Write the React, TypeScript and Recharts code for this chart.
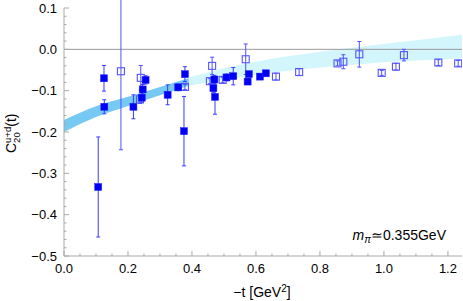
import React from 'react';
import { ComposedChart, XAxis, YAxis, Scatter, Area, ErrorBar, ReferenceLine } from 'recharts';

// ---- data ----
const filledX = [0.125, 0.126, 0.107, 0.217, 0.243, 0.246, 0.255, 0.324, 0.357, 0.378, 0.375, 0.470, 0.467, 0.472, 0.508, 0.529, 0.578, 0.574, 0.6125, 0.631];
const filledY = [-0.070, -0.139, -0.333, -0.139, -0.117, -0.097, -0.074, -0.110, -0.092, -0.060, -0.198, -0.073, -0.094, -0.115, -0.068, -0.065, -0.060, -0.078, -0.066, -0.058];
const filledErr = [0.031, 0.017, 0.121, 0.029, 0.012, 0.012, 0.010, 0.024, 0.008, 0.018, 0.084, 0.010, 0.010, 0.042, 0.008, 0.021, 0.006, 0.006, 0.006, 0.006];

const openX = [0.178, 0.240, 0.2375, 0.378, 0.463, 0.456, 0.496, 0.568, 0.6625, 0.735, 0.855, 0.873, 0.923, 0.993, 1.0375, 1.0625, 1.170, 1.232];
const openY = [-0.053, -0.069, -0.121, -0.091, -0.040, -0.077, -0.074, -0.024, -0.066, -0.055, -0.034, -0.030, -0.012, -0.057, -0.042, -0.014, -0.032, -0.034];
const openErr = [0.19, 0.030, 0.010, 0.006, 0.021, 0.006, 0.006, 0.037, 0.008, 0.008, 0.006, 0.017, 0.031, 0.006, 0.008, 0.014, 0.007, 0.007];

const darkBandX = [0, 0.1, 0.2, 0.3, 0.39];
const darkBandLo = [-0.200, -0.164, -0.137, -0.111, -0.088];
const darkBandHi = [-0.171, -0.138, -0.115, -0.091, -0.070];

const lightBandX = [0.39, 0.45, 0.5, 0.6, 0.7, 0.8, 0.9, 1.0, 1.1, 1.244];
const lightBandLo = [-0.088, -0.080, -0.074, -0.062, -0.052, -0.044, -0.037, -0.031, -0.027, -0.022];
const lightBandHi = [-0.068, -0.056, -0.046, -0.030, -0.017, -0.006, 0.004, 0.013, 0.022, 0.035];

const xTicks = [0, 0.05, 0.1, 0.15, 0.2, 0.25, 0.3, 0.35, 0.4, 0.45, 0.5, 0.55, 0.6, 0.65, 0.7, 0.75, 0.8, 0.85, 0.9, 0.95, 1.0, 1.05, 1.1, 1.15, 1.2];
const xMajorTicks = [0, 0.2, 0.4, 0.6, 0.8, 1.0, 1.2];
const xTickLabels = ['0.0', '0.2', '0.4', '0.6', '0.8', '1.0', '1.2'];

const yTicks = [-0.5, -0.48, -0.46, -0.44, -0.42, -0.4, -0.38, -0.36, -0.34, -0.32, -0.3, -0.28, -0.26, -0.24, -0.22, -0.2, -0.18, -0.16, -0.14, -0.12, -0.1, -0.08, -0.06, -0.04, -0.02, 0, 0.02, 0.04, 0.06, 0.08, 0.1];
const yMajorTicks = [-0.5, -0.4, -0.3, -0.2, -0.1, 0, 0.1];
const yTickLabels = ['\u22120.5', '\u22120.4', '\u22120.3', '\u22120.2', '\u22120.1', '0.0', '0.1'];

// ---- tables built from the arrays ----
const filledData = filledX.map((x, i) => ({ x, y: filledY[i], err: filledErr[i] }));
const openData = openX.map((x, i) => ({ x, y: openY[i], err: openErr[i] }));
const darkBand = darkBandX.map((x, i) => ({ x, lo: darkBandLo[i], hi: darkBandHi[i] }));
const lightBand = lightBandX.map((x, i) => ({ x, lo: lightBandLo[i], hi: lightBandHi[i] }));

const FONT = '"Liberation Sans", Arial, Helvetica, sans-serif';
const FRAME = '#a8a8a8';
const MAJOR = 5;
const MINOR = 2.5;

const majorIndex = (v: number, majors: number[]) => majors.findIndex((m) => Math.abs(m - v) < 1e-6);

const BottomTick = (props: any) => {
  const { x, y, payload } = props;
  const idx = majorIndex(payload.value, xMajorTicks);
  const len = idx >= 0 ? MAJOR : MINOR;
  return (
    <g>
      <line x1={x} y1={y} x2={x} y2={y - len} stroke={FRAME} strokeWidth={1} />
      {idx >= 0 && (
        <text x={x} y={y + 17} textAnchor="middle" fontFamily={FONT} fontSize={13} fill="#000">
          {xTickLabels[idx]}
        </text>
      )}
    </g>
  );
};

const TopTick = (props: any) => {
  const { x, y, payload } = props;
  const idx = majorIndex(payload.value, xMajorTicks);
  const len = idx >= 0 ? MAJOR : MINOR;
  return <line x1={x} y1={y} x2={x} y2={y + len} stroke={FRAME} strokeWidth={1} />;
};

const LeftTick = (props: any) => {
  const { x, y, payload } = props;
  const idx = majorIndex(payload.value, yMajorTicks);
  const len = idx >= 0 ? MAJOR : MINOR;
  return (
    <g>
      <line x1={x} y1={y} x2={x + len} y2={y} stroke={FRAME} strokeWidth={1} />
      {idx >= 0 && (
        <text x={x - 7} y={y + 4.5} textAnchor="end" fontFamily={FONT} fontSize={13} fill="#000">
          {yTickLabels[idx]}
        </text>
      )}
    </g>
  );
};

const RightTick = (props: any) => {
  const { x, y, payload } = props;
  const idx = majorIndex(payload.value, yMajorTicks);
  const len = idx >= 0 ? MAJOR : MINOR;
  return <line x1={x} y1={y} x2={x - len} y2={y} stroke={FRAME} strokeWidth={1} />;
};

const FilledSquare = (props: any) => {
  const { cx, cy } = props;
  if (cx == null || cy == null) return null;
  return <rect x={cx - 3.5} y={cy - 3.5} width={7} height={7} fill="#0000f5" stroke="#2020ff" strokeWidth={0.5} />;
};

const OpenSquare = (props: any) => {
  const { cx, cy } = props;
  if (cx == null || cy == null) return null;
  return <rect x={cx - 3.5} y={cy - 3.5} width={7} height={7} fill="none" stroke="#5555ff" strokeWidth={1.1} />;
};

const YTitle = () => (
  <text x={16} y={153} transform="rotate(-90 16 153)" fontFamily={FONT} fontSize={14} fill="#000">
    <tspan>C</tspan>
    <tspan fontSize={9.5} dy={4}>20</tspan>
    <tspan fontSize={9.5} dx={-10.6} dy={-9.5}>u+d</tspan>
    <tspan dy={5.5}>(t)</tspan>
  </text>
);

const BottomTexts = () => (
  <g>
    <text x={262} y={297} textAnchor="middle" fontFamily={FONT} fontSize={14} fill="#000">
      <tspan>{'\u2212t [GeV'}</tspan>
      <tspan fontSize={10} dy={-5}>2</tspan>
      <tspan dy={5}>]</tspan>
    </text>
    <text x={446} y={240} textAnchor="end" fontFamily={FONT} fontSize={14} fill="#000">
      <tspan fontStyle="italic">m</tspan>
      <tspan fontSize={10} fontStyle="italic" dy={3}>{'\u03c0'}</tspan>
      <tspan dy={-3}>{'\u22430.355GeV'}</tspan>
    </text>
  </g>
);

export default function App() {
  return (
    <div style={{ position: 'absolute', left: 0, top: 0, width: 463, height: 301, background: '#fff' }}>
      <ComposedChart width={463} height={301} margin={{ top: 8, right: 1, bottom: 0, left: 0 }}>
        <XAxis
          dataKey="x"
          type="number"
          domain={[0, 1.244]}
          allowDataOverflow
          ticks={xTicks}
          interval={0}
          height={45}
          tickSize={0}
          tickMargin={0}
          tickLine={false}
          axisLine={{ stroke: FRAME }}
          tick={BottomTick}
          label={BottomTexts}
        />
        <XAxis
          xAxisId="top"
          orientation="top"
          dataKey="x"
          type="number"
          domain={[0, 1.244]}
          allowDataOverflow
          ticks={xTicks}
          interval={0}
          height={0}
          tickSize={0}
          tickMargin={0}
          tickLine={false}
          axisLine={{ stroke: FRAME }}
          tick={TopTick}
        />
        <YAxis
          dataKey="y"
          type="number"
          domain={[-0.5, 0.1]}
          allowDataOverflow
          ticks={yTicks}
          interval={0}
          width={64}
          tickSize={0}
          tickMargin={0}
          tickLine={false}
          axisLine={{ stroke: FRAME }}
          tick={LeftTick}
          label={YTitle}
        />
        <YAxis
          yAxisId="right"
          orientation="right"
          dataKey="y"
          type="number"
          domain={[-0.5, 0.1]}
          allowDataOverflow
          ticks={yTicks}
          interval={0}
          width={0}
          tickSize={0}
          tickMargin={0}
          tickLine={false}
          axisLine={{ stroke: FRAME }}
          tick={RightTick}
        />
        <Area
          data={lightBand}
          dataKey={(d: any) => [d.lo, d.hi]}
          type="monotone"
          stroke="none"
          fill="#d3f5fc"
          fillOpacity={1}
          dot={false}
          activeDot={false}
          isAnimationActive={false}
        />
        <Area
          data={darkBand}
          dataKey={(d: any) => [d.lo, d.hi]}
          type="monotone"
          stroke="none"
          fill="#76c9f3"
          fillOpacity={1}
          dot={false}
          activeDot={false}
          isAnimationActive={false}
        />
        <ReferenceLine y={0} stroke="#999999" strokeWidth={1} />
        <Scatter data={openData} shape={OpenSquare} isAnimationActive={false}>
          <ErrorBar dataKey="err" direction="y" width={2} stroke="#5050ff" strokeWidth={1} isAnimationActive={false} />
        </Scatter>
        <Scatter data={filledData} shape={FilledSquare} isAnimationActive={false}>
          <ErrorBar dataKey="err" direction="y" width={2} stroke="#3a3aff" strokeWidth={1} isAnimationActive={false} />
        </Scatter>
      </ComposedChart>
    </div>
  );
}
